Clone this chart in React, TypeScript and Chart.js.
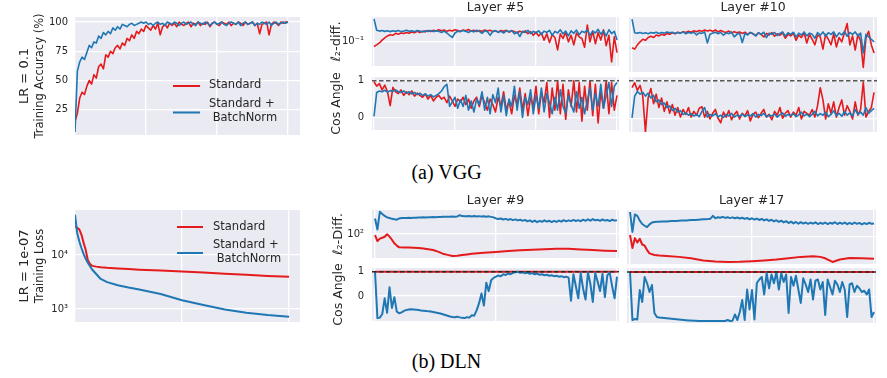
import React, { useEffect, useRef } from 'react';
import { Chart, registerables } from 'chart.js';

Chart.register(...registerables);

// ---------------- DATA ----------------
// (a) VGG, LR = 0.1 — training accuracy (%), index = training step bucket
const vggAccStandard = [
  15, 22, 35, 40, 38, 45, 50, 47, 55, 52,
  62, 64, 60, 72, 70, 75, 73, 78, 80, 77,
  82, 80, 86, 84, 89, 86, 92, 90, 94, 92,
  97, 95, 93, 97, 94, 99, 89, 96, 98, 95,
  99, 97, 99, 96, 100, 98, 97, 99, 100, 96,
  99, 98, 100, 97, 99, 98, 100, 96, 99, 100,
  98, 97, 100, 99, 98, 100, 97, 99, 98, 100,
  99, 97, 100, 98, 99, 100, 97, 99, 90, 98,
  99, 100, 89, 98, 100, 99, 97, 100, 99, 100,
  100,
];
const vggAccBN = [
  6, 58, 66, 70, 68, 74, 80, 78, 83, 82,
  88, 86, 91, 89, 92, 90, 95, 93, 96, 94,
  98, 97, 96, 98, 99, 97, 98, 99, 100, 99,
  100, 98, 99, 97, 99, 100, 98, 99, 97, 100,
  99, 98, 100, 99, 97, 99, 100, 98, 99, 100,
  98, 97, 100, 99, 98, 100, 99, 97, 99, 100,
  98, 99, 100, 98, 97, 99, 100, 99, 98, 100,
  97, 99, 100, 98, 99, 100, 97, 99, 98, 100,
  99, 98, 100, 97, 99, 100, 98, 99, 100, 99,
  100,
];
// Layer #5
const vggL5DiffStandard = [
  0.088, 0.092, 0.097, 0.105, 0.112, 0.118, 0.122, 0.12, 0.127, 0.124,
  0.128, 0.126, 0.13, 0.127, 0.132, 0.129, 0.134, 0.13, 0.135, 0.132,
  0.137, 0.133, 0.138, 0.135, 0.14, 0.136, 0.139, 0.134, 0.138, 0.135,
  0.14, 0.137, 0.134, 0.139, 0.136, 0.141, 0.135, 0.138, 0.133, 0.137,
  0.134, 0.139, 0.135, 0.138, 0.133, 0.136, 0.132, 0.137, 0.134, 0.138,
  0.131, 0.136, 0.133, 0.128, 0.135, 0.13, 0.136, 0.126, 0.133, 0.12,
  0.131, 0.118, 0.128, 0.105, 0.125, 0.098, 0.122, 0.113, 0.08, 0.125,
  0.11, 0.13, 0.1, 0.12, 0.092, 0.128, 0.115, 0.11, 0.086, 0.16,
  0.1, 0.135, 0.095, 0.13, 0.105, 0.14, 0.09, 0.12, 0.057, 0.115,
  0.074,
];
const vggL5DiffBN = [
  0.19, 0.138, 0.135, 0.137, 0.134, 0.136, 0.133, 0.136, 0.134, 0.137,
  0.133, 0.135, 0.138, 0.134, 0.136, 0.133, 0.137, 0.135, 0.132, 0.136,
  0.134, 0.137, 0.133, 0.136, 0.134, 0.13, 0.135, 0.128, 0.12, 0.113,
  0.128, 0.135, 0.133, 0.137, 0.134, 0.13, 0.136, 0.132, 0.138, 0.134,
  0.127, 0.136, 0.133, 0.12, 0.134, 0.137, 0.13, 0.135, 0.128, 0.136,
  0.133, 0.137, 0.125, 0.132, 0.116, 0.134, 0.13, 0.138, 0.126, 0.134,
  0.129, 0.136, 0.123, 0.135, 0.13, 0.138, 0.12, 0.134, 0.128, 0.14,
  0.125, 0.135, 0.118, 0.136, 0.127, 0.139, 0.122, 0.134, 0.13, 0.14,
  0.12, 0.135, 0.128, 0.142, 0.124, 0.136, 0.118, 0.14, 0.126, 0.134,
  0.105,
];
const vggL5CosStandard = [
  0.97, 0.85, 0.92, 0.75, 0.88, 0.7, 0.32, 0.82, 0.7, 0.65,
  0.75, 0.6, 0.7, 0.62, 0.72, 0.58, 0.66, 0.6, 0.55, 0.64,
  0.5, 0.6, 0.45, 0.55, 0.6, 0.5, 0.55, 0.4, 0.58, 0.45,
  0.3, 0.5, 0.42, 0.55, 0.35, 0.5, 0.25, 0.45, 0.55, 0.3,
  0.6, 0.4, 0.2, 0.5, 0.35, 0.15, 0.55, 0.3, 0.7, 0.2,
  0.45, 0.1, 0.6, 0.35, 0.8, 0.2, 0.65, 0.05, 0.55, 0.3,
  0.85, 0.1, 0.7, 0.4, 0.95, 0.0, 0.8, 0.2, 1.0, 0.1,
  0.9, -0.05, 0.75, 0.3, 1.0, 0.15, 0.95, -0.1, 0.85, 0.2,
  1.0, 0.05, 0.9, -0.15, 0.7, 0.25, 1.0, 0.1, 0.95, 0.2,
  0.6,
];
const vggL5CosBN = [
  0.03, 0.68, 0.72, 0.7, 0.74, 0.69, 0.73, 0.71, 0.75, 0.7,
  0.68, 0.72, 0.66, 0.7, 0.64, 0.68, 0.62, 0.66, 0.6, 0.64,
  0.58, 0.62, 0.56, 0.6, 0.65, 0.72, 0.84, 0.9, 0.3, 0.42,
  0.55, 0.25, 0.48, 0.3, 0.6, 0.2, 0.45, 0.15, 0.5, 0.35,
  0.7, 0.2, 0.55, 0.1, 0.62, 0.4, 0.8, 0.15, 0.6, 0.05,
  0.5, 0.3, 0.85, 0.2, 0.7, 0.0, 0.55, 0.35, 0.75, 0.1,
  0.6, 0.25, 0.8, 0.15, 0.65, 0.4, 0.1, 0.55, 0.2, 0.75,
  0.3, 0.12, 0.6, 0.35, 0.15, 0.7, 0.25, 0.55, 0.1, 0.45,
  0.8, 0.2, 0.65, 0.3, 0.9, 0.25, 0.6, 0.95, 0.3, 0.85,
  0.95,
];
// Layer #10
const vggL10DiffStandard = [
  0.093, 0.09, 0.1, 0.108, 0.115, 0.112, 0.12, 0.124, 0.12, 0.128,
  0.125, 0.13, 0.127, 0.133, 0.13, 0.135, 0.132, 0.137, 0.134, 0.139,
  0.136, 0.14, 0.137, 0.142, 0.139, 0.143, 0.14, 0.145, 0.141, 0.144,
  0.14, 0.145, 0.138, 0.143, 0.139, 0.136, 0.141, 0.134, 0.139, 0.135,
  0.138, 0.133, 0.137, 0.13, 0.136, 0.132, 0.126, 0.135, 0.13, 0.122,
  0.133, 0.128, 0.136, 0.124, 0.132, 0.127, 0.135, 0.118, 0.13, 0.125,
  0.134, 0.112, 0.128, 0.12, 0.135, 0.105, 0.13, 0.115, 0.1, 0.128,
  0.122, 0.09, 0.13, 0.115, 0.1, 0.132, 0.095, 0.12, 0.108, 0.135,
  0.17, 0.1, 0.125, 0.088, 0.13, 0.11, 0.057, 0.12, 0.14, 0.1,
  0.082,
];
const vggL10DiffBN = [
  0.19, 0.135, 0.134, 0.136, 0.133, 0.135, 0.132, 0.136, 0.134, 0.137,
  0.133, 0.136, 0.134, 0.138, 0.135, 0.137, 0.133, 0.136, 0.134, 0.138,
  0.132, 0.136, 0.134, 0.137, 0.128, 0.135, 0.133, 0.138, 0.105, 0.13,
  0.134, 0.137, 0.132, 0.136, 0.127, 0.135, 0.132, 0.138, 0.122, 0.13,
  0.134, 0.106, 0.133, 0.128, 0.136, 0.132, 0.125, 0.135, 0.13, 0.137,
  0.12, 0.134, 0.13, 0.136, 0.126, 0.133, 0.138, 0.124, 0.135, 0.13,
  0.137, 0.122, 0.134, 0.128, 0.138, 0.125, 0.134, 0.13, 0.118, 0.136,
  0.127, 0.138, 0.124, 0.135, 0.13, 0.138, 0.122, 0.135, 0.128, 0.14,
  0.124, 0.136, 0.13, 0.138, 0.125, 0.134, 0.082, 0.13, 0.122, 0.115,
  0.108,
];
const vggL10CosStandard = [
  0.82, 0.95, 0.75, 0.88, 0.6, -0.34, 0.55, 0.8, 0.4, 0.65,
  0.3, 0.55, 0.2, 0.45, 0.15, 0.38, 0.1, 0.3, 0.05, 0.25,
  0.12, 0.3, 0.05, 0.2, 0.1, 0.28, 0.32, 0.05, 0.2, 0.0,
  0.15, 0.25, 0.02, -0.1, 0.18, 0.05, 0.22, -0.02, 0.12, 0.2,
  0.0, 0.15, 0.08, 0.22, -0.05, 0.12, 0.18, 0.03, 0.15, 0.25,
  0.05, 0.12, -0.02, 0.2, 0.1, 0.3, 0.02, 0.15, 0.22, 0.05,
  0.18, 0.1, 0.3, 0.0, 0.2, 0.15, 0.1, 0.25, 0.05, 0.35,
  0.82, 0.5, 0.0, 0.4, 0.15, 0.45, 0.05, 0.3, 0.5, 0.1,
  0.35, 0.2, 0.0, 0.45, 0.1, 0.25, 0.97, 0.05, 0.2, 0.3,
  0.7,
];
const vggL10CosBN = [
  0.03, 0.6, 0.72, 0.65, 0.7, 0.6, 0.68, 0.55, 0.62, 0.45,
  0.5, 0.38, 0.42, 0.3, 0.34, 0.22, 0.28, 0.18, 0.22, 0.12,
  0.16, 0.1, 0.14, 0.08, 0.12, 0.06, 0.2, 0.3, 0.05, 0.12,
  0.08, 0.14, 0.06, 0.1, 0.04, 0.12, 0.08, 0.15, 0.05, 0.1,
  0.07, 0.13, 0.06, 0.11, 0.08, 0.14, 0.05, 0.12, 0.09, 0.15,
  0.06, 0.1, 0.08, 0.13, 0.05, 0.11, 0.16, 0.07, 0.12, 0.09,
  0.14, 0.06, 0.11, 0.18, 0.08, 0.13, 0.06, 0.12, 0.2, 0.08,
  0.14, 0.1, 0.18, 0.06, 0.12, 0.22, 0.09, 0.15, 0.07, 0.2,
  0.1, 0.16, 0.08, 0.25, 0.12, 0.18, 0.1, 0.3, 0.15, 0.22,
  0.28,
];

// (b) DLN, LR = 1e-07 — training loss
const dlnLossSteps = [0, 1, 2, 3, 4, 5, 6, 7, 8, 10, 12, 15, 20, 25, 30, 40, 50, 60, 70, 80, 90, 100];
const dlnLossStandard = [34000, 32000, 30000, 24000, 17000, 12500, 8000, 6800, 6300, 6100, 5950, 5800, 5650, 5500, 5350, 5150, 4950, 4750, 4500, 4300, 4100, 3950];
const dlnLossBN = [56000, 26000, 18000, 13500, 10500, 8500, 7200, 6200, 5400, 4400, 3600, 3150, 2750, 2500, 2300, 1900, 1450, 1180, 980, 850, 770, 715];
// Layer #9
const dlnL9DiffStdSteps = [0, 1, 2, 3, 4, 5, 6, 7, 8, 9, 10, 12, 14, 16, 18, 20, 22, 24, 26, 28, 30, 32, 34, 36, 38, 40, 45, 50, 55, 60, 65, 70, 75, 80, 85, 90, 95, 100];
const dlnL9DiffStandard = [89, 48, 62, 68, 75, 97, 76, 55, 38, 30, 25, 24.5, 24.5, 24, 23.5, 22, 20.5, 19, 16, 13, 11.5, 10.3, 10.5, 11.3, 12, 12.8, 14.2, 15.6, 17, 18.3, 19.6, 20.8, 21.8, 21.5, 20.2, 18.8, 17.8, 17.2];
const dlnL9DiffBN = [
  500, 160, 1000, 800, 650, 560, 520, 480, 460, 440,
  500, 520, 525, 522, 535, 530, 545, 540, 552, 548,
  560, 556, 568, 565, 575, 572, 585, 580, 592, 590,
  600, 596, 608, 604, 615, 700, 640, 632, 626, 640,
  618, 642, 612, 636, 606, 630, 598, 622, 590, 560,
  500, 470, 500, 450, 480, 430, 470, 420, 455, 410,
  440, 390, 430, 370, 410, 350, 400, 340, 390, 355,
  410, 360, 395, 345, 390, 350, 400, 360, 420, 370,
  410, 380, 430, 385, 420, 375, 440, 390, 460, 400,
  470, 410, 440, 390, 450, 400, 430, 380, 440, 400,
  420,
];
const dlnL9CosBN = [
  1.0, -0.92, -0.9, -0.75, -0.1, -0.7, 0.36, -0.5, -0.05, -0.65,
  -0.72, -0.68, -0.62, -0.58, -0.56, -0.55, -0.56, -0.57, -0.58, -0.6,
  -0.61, -0.62, -0.64, -0.65, -0.67, -0.69, -0.71, -0.73, -0.76, -0.79,
  -0.82, -0.85, -0.87, -0.88, -0.86, -0.89, -0.91, -0.92, -0.88, -0.9,
  -0.8, -0.82, -0.6, -0.3, 0.1, -0.4, 0.55, 0.2, 0.65, 0.75,
  0.8, 0.85, 0.82, 0.9, 0.87, 0.93, 0.9, 0.96, 0.98, 1.0,
  0.96, 0.98, 0.94, 0.97, 0.92, 0.95, 0.9, 0.93, 0.88, 0.9,
  0.86, 0.88, 0.84, 0.86, 0.82, 0.84, 0.8, 0.82, 0.78, 0.8,
  0.76, -0.2, 0.9, 0.4, -0.1, 0.95, 0.3, -0.15, 0.98, 0.5,
  -0.25, 0.95, 0.6, 0.2, 0.92, -0.05, 0.85, 0.97, 0.4, -0.1,
  0.8,
];
// Layer #17
const dlnL17DiffStdSteps = [0, 1, 2, 3, 4, 5, 6, 7, 8, 10, 12, 15, 20, 25, 30, 35, 40, 45, 50, 55, 60, 65, 70, 75, 78, 80, 83, 86, 90, 95, 100];
const dlnL17DiffStandard = [120, 36, 90, 60, 85, 50, 45, 30, 22, 19, 18, 17.5, 16, 14, 11.5, 10.5, 10, 10.2, 10.8, 11.5, 12.5, 14, 16, 17, 16, 14, 10, 12.5, 14.5, 14, 13.5];
const dlnL17DiffBN = [
  1000, 160, 800, 700, 450, 330, 280, 250, 320, 380,
  400, 410, 405, 415, 420, 418, 428, 432, 438, 436,
  446, 452, 458, 455, 466, 474, 480, 478, 490, 500,
  508, 515, 525, 540, 700, 560, 620, 590, 640, 580,
  620, 570, 610, 560, 600, 550, 590, 530, 575, 510,
  560, 500, 545, 480, 530, 460, 510, 440, 490, 420,
  470, 400, 450, 380, 430, 360, 410, 350, 400, 340,
  390, 345, 380, 335, 375, 340, 385, 330, 370, 335,
  380, 330, 370, 340, 390, 330, 375, 335, 380, 325,
  370, 330, 380, 335, 365, 320, 360, 330, 370, 335,
  345,
];
const dlnL17CosBN = [
  1.0, -0.92, -0.88, -0.9, 0.28, -0.2, 0.8, 0.55, 0.2, 0.48,
  -0.64, -0.8, -0.82, -0.83, -0.84, -0.85, -0.86, -0.87, -0.88, -0.89,
  -0.9, -0.91, -0.92, -0.93, -0.94, -0.94, -0.95, -0.95, -0.96, -0.96,
  -0.96, -0.96, -0.96, -0.96, -0.96, -0.96, -0.96, -0.96, -0.96, -0.96,
  -0.92, -0.96, -0.95, -0.7, -0.92, -0.6, -0.12, -0.92, 0.3, -0.5,
  0.28, -0.9, 0.56, 0.7, 0.8, 0.1, 0.96, 0.35, 0.9, 0.55,
  1.0, 0.3, 0.95, 0.6, 0.9, -0.64, 0.8, 0.45, 0.85, 0.3,
  -0.24, 0.75, 0.5, 0.2, 0.7, -0.1, 0.65, 0.7, 0.3, 0.6,
  -0.72, 0.7, 0.4, 0.1, 0.65, 0.5, 0.2, 0.6, 0.3, -0.8,
  0.5, 0.55, 0.2, 0.45, 0.35, 0.2, 0.25, 0.1, 0.3, -0.8,
  -0.6,
];
const dlnCosStdSteps = [0, 100];
const dlnCosStandard = [1, 1];

// ticks
const vggStepTicks = [0, 30, 60, 90];
const dlnStepTicks = [0, 50, 100];
const accTicks = [25, 50, 75, 100];
const accTickLabels = ['25', '50', '75', '100'];
const vggDiffTicks = [0.1];
const vggDiffTickLabels = ['10⁻¹'];
const cosTicks = [0, 1];
const cosTickLabels = ['0', '1'];
const lossTicks = [1000, 10000];
const lossTickLabels = ['10³', '10⁴'];
const dlnDiffTicks = [100];
const dlnDiffTickLabels = ['10²'];

const LABEL_STD = 'Standard';
const LABEL_BN = 'Standard +\n BatchNorm';

// ---------------- STYLE ----------------
const RED = '#e41a1c';
const BLUE = '#1f77b4';
const BG = '#eaeaf2';
const TXT = '#262626';
const FONT = "'DejaVu Sans', sans-serif";

type Pt = { x: number; y: number };
const indexed = (vals: number[]): Pt[] => vals.map((y, x) => ({ x, y }));
const paired = (xs: number[], vals: number[]): Pt[] => vals.map((y, i) => ({ x: xs[i], y }));

interface Series { label: string; color: string; width: number; data: Pt[] }
interface LegendItem { label: string; color: string; ly: number; ty: number[] }
interface LegendSpec { x0: number; x1: number; tx: number; items: LegendItem[] }
interface Spec {
  box: [number, number, number, number];
  plot: [number, number, number, number];
  title?: string;
  yTitle?: string; yTitleSize?: number; yTitleX?: number;
  outerTitle?: string; outerTitleSize?: number; outerTitleX?: number; outerW?: number;
  yType: 'linear' | 'logarithmic';
  yMin: number; yMax: number; yTicks: number[]; yLabels?: string[]; tickPad?: number;
  xMin: number; xMax: number; xTicks: number[];
  series: Series[];
  refLine?: { value: number; color: string };
  legend?: LegendSpec;
}

function buildConfig(s: Spec): any {
  const [bl, bt, bw, bh] = s.box;
  const [pl, pt, pr, pb] = s.plot;
  const titleH = s.title ? 17 : 0;
  const outerW = s.outerTitle ? (s.outerW as number) : 0;
  const yW = pl - bl - outerW;
  const grid = { color: '#ffffff', lineWidth: 1.3, drawTicks: false };
  const scales: any = {
    x: {
      type: 'linear', min: s.xMin, max: s.xMax, position: 'bottom',
      afterBuildTicks: (sc: any) => { sc.ticks = s.xTicks.map((v) => ({ value: v })); },
      afterFit: (sc: any) => { sc.height = 0; },
      ticks: { display: false },
      grid,
      border: { display: false },
    },
    y: {
      type: s.yType, min: s.yMin, max: s.yMax, position: 'left', weight: 0,
      afterBuildTicks: (sc: any) => { sc.ticks = s.yTicks.map((v) => ({ value: v })); },
      afterFit: (sc: any) => { sc.width = yW; },
      ticks: {
        display: !!s.yLabels, autoSkip: false, padding: s.tickPad ?? 7, color: TXT,
        font: { family: FONT, size: 10 },
        callback: (_v: any, i: number) => (s.yLabels ? s.yLabels[i] : ''),
      },
      grid,
      border: { display: false },
      title: s.yTitle
        ? {
            display: true, text: s.yTitle, color: TXT,
            font: { family: FONT, size: s.yTitleSize, lineHeight: 1.2 },
            padding: { top: (s.yTitleX as number) - (bl + outerW) - (s.yTitleSize as number) * 0.6, bottom: 0 },
          }
        : { display: false },
    },
  };
  if (s.outerTitle) {
    scales.yOuter = {
      type: 'linear', position: 'left', weight: 1, display: true,
      afterFit: (sc: any) => { sc.width = outerW; },
      ticks: { display: false }, grid: { display: false }, border: { display: false },
      title: {
        display: true, text: s.outerTitle, color: TXT,
        font: { family: FONT, size: s.outerTitleSize, lineHeight: 1.2 },
        padding: { top: (s.outerTitleX as number) - bl - (s.outerTitleSize as number) * 0.6, bottom: 0 },
      },
    };
  }

  const plugins: any[] = [
    {
      id: 'plotBg',
      beforeDraw(chart: any) {
        const { ctx, chartArea: a } = chart;
        ctx.save();
        ctx.fillStyle = BG;
        ctx.fillRect(a.left, a.top, a.right - a.left, a.bottom - a.top);
        ctx.restore();
      },
    },
  ];
  if (s.refLine) {
    const rl = s.refLine;
    plugins.push({
      id: 'refLine',
      afterDatasetsDraw(chart: any) {
        const { ctx, chartArea: a } = chart;
        const y = chart.scales.y.getPixelForValue(rl.value);
        ctx.save();
        ctx.strokeStyle = rl.color;
        ctx.lineWidth = 1.5;
        ctx.setLineDash([4.5, 2.5]);
        ctx.beginPath();
        ctx.moveTo(a.left, y);
        ctx.lineTo(a.right, y);
        ctx.stroke();
        ctx.restore();
      },
    });
  }
  if (s.legend) {
    const lg = s.legend;
    plugins.push({
      id: 'innerLegend',
      afterDraw(chart: any) {
        const { ctx } = chart;
        ctx.save();
        ctx.font = `11.5px ${FONT}`;
        ctx.fillStyle = TXT;
        ctx.textBaseline = 'middle';
        ctx.textAlign = 'left';
        lg.items.forEach((it) => {
          ctx.strokeStyle = it.color;
          ctx.lineWidth = 2;
          ctx.beginPath();
          ctx.moveTo(lg.x0 - bl, it.ly - bt);
          ctx.lineTo(lg.x1 - bl, it.ly - bt);
          ctx.stroke();
          it.label.split('\n').forEach((line, k) => {
            ctx.fillText(line, lg.tx - bl, it.ty[k] - bt);
          });
        });
        ctx.restore();
      },
    });
  }

  return {
    type: 'line',
    data: {
      datasets: s.series.map((se) => ({
        label: se.label, data: se.data, borderColor: se.color, backgroundColor: se.color,
        borderWidth: se.width, pointRadius: 0, tension: 0, fill: false,
        xAxisID: 'x', yAxisID: 'y', borderJoinStyle: 'round', borderCapStyle: 'butt',
      })),
    },
    options: {
      responsive: false, animation: false, devicePixelRatio: 1, events: [],
      layout: {
        autoPadding: false,
        padding: { top: pt - bt - titleH, bottom: bt + bh - pb, left: 0, right: bl + bw - pr },
      },
      plugins: {
        legend: { display: false },
        tooltip: { enabled: false },
        title: s.title
          ? {
              display: true, text: s.title, fullSize: false, color: TXT, align: 'center',
              font: { family: FONT, size: 12.5, weight: 'normal', lineHeight: 1.2 },
              padding: { top: 0, bottom: 2 },
            }
          : { display: false },
      },
      scales,
    },
    plugins,
  };
}

function Panel({ spec }: { spec: Spec }) {
  const ref = useRef<HTMLCanvasElement>(null);
  useEffect(() => {
    const chart = new Chart(ref.current as HTMLCanvasElement, buildConfig(spec));
    return () => chart.destroy();
  }, [spec]);
  const [l, t, w, h] = spec.box;
  return (
    <canvas ref={ref} width={w} height={h}
      style={{ position: 'absolute', left: l, top: t, width: w, height: h }} />
  );
}

// ---------------- PANELS ----------------
const vggW = 1.6;
const dlnW = 2;

const specs: Spec[] = [
  // (a) left: training accuracy
  {
    box: [0, 0, 300, 150], plot: [75, 17, 300, 135],
    yTitle: 'Training Accuracy (%)', yTitleSize: 11.5, yTitleX: 40,
    outerTitle: 'LR = 0.1', outerTitleSize: 13, outerTitleX: 25, outerW: 30,
    yType: 'linear', yMin: 3.4, yMax: 104.3, yTicks: accTicks, yLabels: accTickLabels, tickPad: 7,
    xMin: 0, xMax: 95.06, xTicks: vggStepTicks,
    series: [
      { label: LABEL_BN, color: BLUE, width: vggW, data: indexed(vggAccBN) },
      { label: LABEL_STD, color: RED, width: vggW, data: indexed(vggAccStandard) },
    ],
    legend: {
      x0: 173, x1: 200, tx: 209,
      items: [
        { label: LABEL_STD, color: RED, ly: 86, ty: [85] },
        { label: LABEL_BN, color: BLUE, ly: 112.5, ty: [104, 118] },
      ],
    },
  },
  // (a) Layer #5 l2-diff
  {
    box: [320, 0, 299, 80], plot: [372, 17, 619, 72], title: 'Layer #5',
    yTitle: 'ℓ₂-diff.', yTitleSize: 13, yTitleX: 337,
    yType: 'logarithmic', yMin: 0.051, yMax: 0.2, yTicks: vggDiffTicks, yLabels: vggDiffTickLabels, tickPad: 8,
    xMin: -0.74, xMax: 90.74, xTicks: vggStepTicks,
    series: [
      { label: LABEL_BN, color: BLUE, width: vggW, data: indexed(vggL5DiffBN) },
      { label: LABEL_STD, color: RED, width: vggW, data: indexed(vggL5DiffStandard) },
    ],
  },
  // (a) Layer #5 cos
  {
    box: [320, 62, 299, 82], plot: [372, 77, 619, 132],
    yTitle: 'Cos Angle', yTitleSize: 12.5, yTitleX: 337,
    yType: 'linear', yMin: -0.34, yMax: 1.1, yTicks: cosTicks, yLabels: cosTickLabels, tickPad: 8,
    xMin: -0.74, xMax: 90.74, xTicks: vggStepTicks,
    series: [
      { label: LABEL_BN, color: BLUE, width: vggW, data: indexed(vggL5CosBN) },
      { label: LABEL_STD, color: RED, width: vggW, data: indexed(vggL5CosStandard) },
    ],
    refLine: { value: 1, color: '#555555' },
  },
  // (a) Layer #10 l2-diff
  {
    box: [629, 0, 248, 80], plot: [629, 17, 877, 72], title: 'Layer #10',
    yType: 'logarithmic', yMin: 0.051, yMax: 0.2, yTicks: vggDiffTicks,
    xMin: -1.12, xMax: 91.1, xTicks: vggStepTicks,
    series: [
      { label: LABEL_BN, color: BLUE, width: vggW, data: indexed(vggL10DiffBN) },
      { label: LABEL_STD, color: RED, width: vggW, data: indexed(vggL10DiffStandard) },
    ],
  },
  // (a) Layer #10 cos
  {
    box: [629, 62, 248, 82], plot: [629, 77, 877, 132],
    yType: 'linear', yMin: -0.34, yMax: 1.1, yTicks: cosTicks,
    xMin: -1.12, xMax: 91.1, xTicks: vggStepTicks,
    series: [
      { label: LABEL_BN, color: BLUE, width: vggW, data: indexed(vggL10CosBN) },
      { label: LABEL_STD, color: RED, width: vggW, data: indexed(vggL10CosStandard) },
    ],
    refLine: { value: 1, color: '#555555' },
  },
  // (b) left: training loss
  {
    box: [0, 195, 300, 140], plot: [75, 210, 300, 324],
    yTitle: 'Training Loss', yTitleSize: 11.5, yTitleX: 40,
    outerTitle: 'LR = 1e-07', outerTitleSize: 13, outerTitleX: 25, outerW: 30,
    yType: 'logarithmic', yMin: 573, yMax: 68500, yTicks: lossTicks, yLabels: lossTickLabels, tickPad: 7,
    xMin: 0, xMax: 105.1, xTicks: dlnStepTicks,
    series: [
      { label: LABEL_BN, color: BLUE, width: dlnW, data: paired(dlnLossSteps, dlnLossBN) },
      { label: LABEL_STD, color: RED, width: dlnW, data: paired(dlnLossSteps, dlnLossStandard) },
    ],
    legend: {
      x0: 177, x1: 203, tx: 213,
      items: [
        { label: LABEL_STD, color: RED, ly: 227, ty: [227] },
        { label: LABEL_BN, color: BLUE, ly: 253, ty: [245, 259] },
      ],
    },
  },
  // (b) Layer #9 l2-diff
  {
    box: [320, 192, 299, 80], plot: [372, 210, 619, 264], title: 'Layer #9',
    yTitle: 'ℓ₂-Diff.', yTitleSize: 13, yTitleX: 339,
    yType: 'logarithmic', yMin: 8.3, yMax: 1202, yTicks: dlnDiffTicks, yLabels: dlnDiffTickLabels, tickPad: 8,
    xMin: -1.24, xMax: 100.83, xTicks: dlnStepTicks,
    series: [
      { label: LABEL_BN, color: BLUE, width: dlnW, data: indexed(dlnL9DiffBN) },
      { label: LABEL_STD, color: RED, width: dlnW, data: paired(dlnL9DiffStdSteps, dlnL9DiffStandard) },
    ],
  },
  // (b) Layer #9 cos
  {
    box: [320, 253, 299, 82], plot: [372, 268, 619, 323],
    yTitle: 'Cos Angle', yTitleSize: 12.5, yTitleX: 339,
    yType: 'linear', yMin: -1.04, yMax: 1.16, yTicks: cosTicks, yLabels: cosTickLabels, tickPad: 8,
    xMin: -1.24, xMax: 100.83, xTicks: dlnStepTicks,
    series: [
      { label: LABEL_BN, color: BLUE, width: dlnW, data: indexed(dlnL9CosBN) },
      { label: LABEL_STD, color: RED, width: dlnW, data: paired(dlnCosStdSteps, dlnCosStandard) },
    ],
    refLine: { value: 1, color: '#2a2a2a' },
  },
  // (b) Layer #17 l2-diff
  {
    box: [627, 192, 249, 80], plot: [627, 210, 876, 264], title: 'Layer #17',
    yType: 'logarithmic', yMin: 8.3, yMax: 1202, yTicks: dlnDiffTicks,
    xMin: -1.23, xMax: 100.82, xTicks: dlnStepTicks,
    series: [
      { label: LABEL_BN, color: BLUE, width: dlnW, data: indexed(dlnL17DiffBN) },
      { label: LABEL_STD, color: RED, width: dlnW, data: paired(dlnL17DiffStdSteps, dlnL17DiffStandard) },
    ],
  },
  // (b) Layer #17 cos
  {
    box: [627, 253, 249, 82], plot: [627, 268, 876, 323],
    yType: 'linear', yMin: -1.04, yMax: 1.16, yTicks: cosTicks,
    xMin: -1.23, xMax: 100.82, xTicks: dlnStepTicks,
    series: [
      { label: LABEL_BN, color: BLUE, width: dlnW, data: indexed(dlnL17CosBN) },
      { label: LABEL_STD, color: RED, width: dlnW, data: paired(dlnCosStdSteps, dlnCosStandard) },
    ],
    refLine: { value: 1, color: '#2a2a2a' },
  },
];

const captionStyle: React.CSSProperties = {
  position: 'absolute', left: 0, width: 893, textAlign: 'center',
  fontFamily: "'Liberation Serif', 'Times New Roman', serif", fontSize: 20, lineHeight: '20px', color: '#000',
};

export default function App() {
  return (
    <div style={{ position: 'absolute', left: 0, top: 0, width: 887, height: 378, background: '#fff', overflow: 'hidden' }}>
      {specs.map((s, i) => (
        <Panel key={i} spec={s} />
      ))}
      <div style={{ ...captionStyle, top: 162 }}>(a) VGG</div>
      <div style={{ ...captionStyle, top: 351 }}>(b) DLN</div>
    </div>
  );
}
